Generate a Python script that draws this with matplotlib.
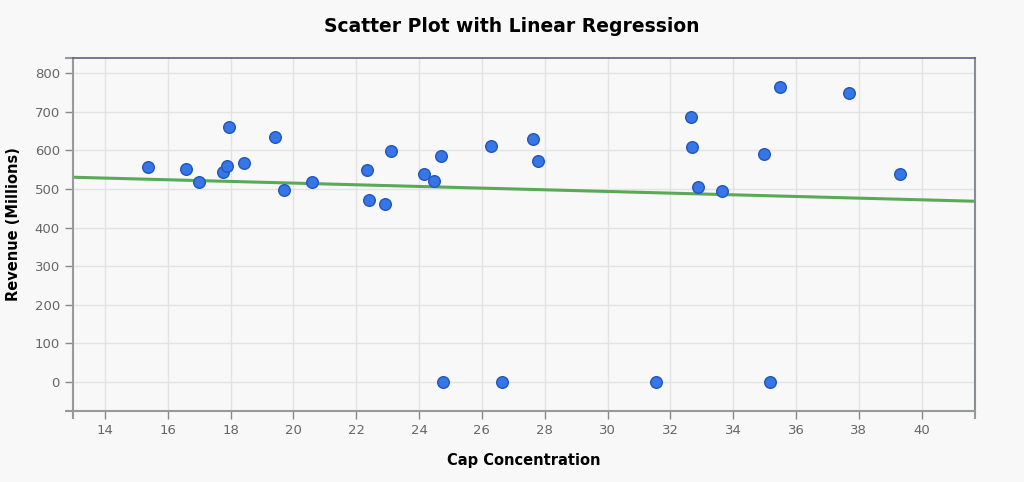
import numpy as np
import matplotlib
matplotlib.use("Agg")
import matplotlib.pyplot as plt

# Datos
cap_concentration = [15.36, 16.58, 17.00, 17.77, 17.87, 17.94, 18.42, 19.40, 19.71, 20.59,
                     22.35, 22.42, 22.93, 23.09, 24.17, 24.46, 24.71, 26.29, 27.64, 27.79,
                     32.65, 32.69, 32.89, 33.63, 34.99, 35.49, 37.69, 39.31,
                     24.77, 26.63, 31.54, 35.16]
revenue = [556, 552, 517, 544, 560, 662, 567, 636, 498, 519,
           549, 471, 462, 599, 540, 520, 585, 612, 630, 573,
           686, 610, 506, 495, 591, 765, 748, 540,
           0, 0, 0, 0]

x = np.array(cap_concentration)
y = np.array(revenue)
slope, intercept = np.polyfit(x, y, 1)

bg = '#f8f8f8'
fig = plt.figure(figsize=(10.24, 4.82), dpi=100, facecolor=bg)
ax = fig.add_axes([73/1024, 1 - 411/482, (975-73)/1024, (411-58)/482])
ax.set_facecolor(bg)

xmin, xmax = 12.98, 41.7
ymin, ymax = -76, 840
ax.set_xlim(xmin, xmax)
ax.set_ylim(ymin, ymax)

ax.grid(True, color='#e3e3e3', linewidth=1)
ax.set_axisbelow(True)

xs = np.array([xmin, xmax])
ax.plot(xs, slope * xs + intercept, color='#5aa956', linewidth=2.2, zorder=2)
ax.scatter(x, y, s=70, color='#3676e8', edgecolors='#2356b8', linewidths=1.0, zorder=3)

ax.set_xticks(np.arange(14, 41, 2))
ax.set_yticks(np.arange(0, 801, 100))
# ticks de los extremos del eje (estilo d3)
ax.set_xticks([xmin, xmax], minor=True)
ax.set_yticks([ymin, ymax], minor=True)
ax.tick_params(which='both', colors='#888888', labelcolor='#666666', labelsize=9.5, length=6, width=1)
ax.tick_params(which='minor', colors='#999999', width=1.5)

for s in ['left', 'bottom']:
    ax.spines[s].set_color('#999999')
    ax.spines[s].set_linewidth(1.5)
ax.spines['top'].set_color('#5c6378')
ax.spines['right'].set_color('#888c99')
ax.spines['top'].set_linewidth(1.2)
ax.spines['right'].set_linewidth(1.5)

fig.text(524/1024, 1 - 461/482, 'Cap Concentration', ha='center', va='center',
         fontsize=10.5, fontweight='bold')
fig.text(14/1024, 1 - 224/482, 'Revenue (Millions)', ha='center', va='center',
         rotation=90, fontsize=10.5, fontweight='bold')
fig.text(0.5, 1 - 27/482, 'Scatter Plot with Linear Regression', ha='center', va='center',
         fontsize=13.5, fontweight='bold')

fig.savefig('out.png', dpi=100, facecolor=bg)
